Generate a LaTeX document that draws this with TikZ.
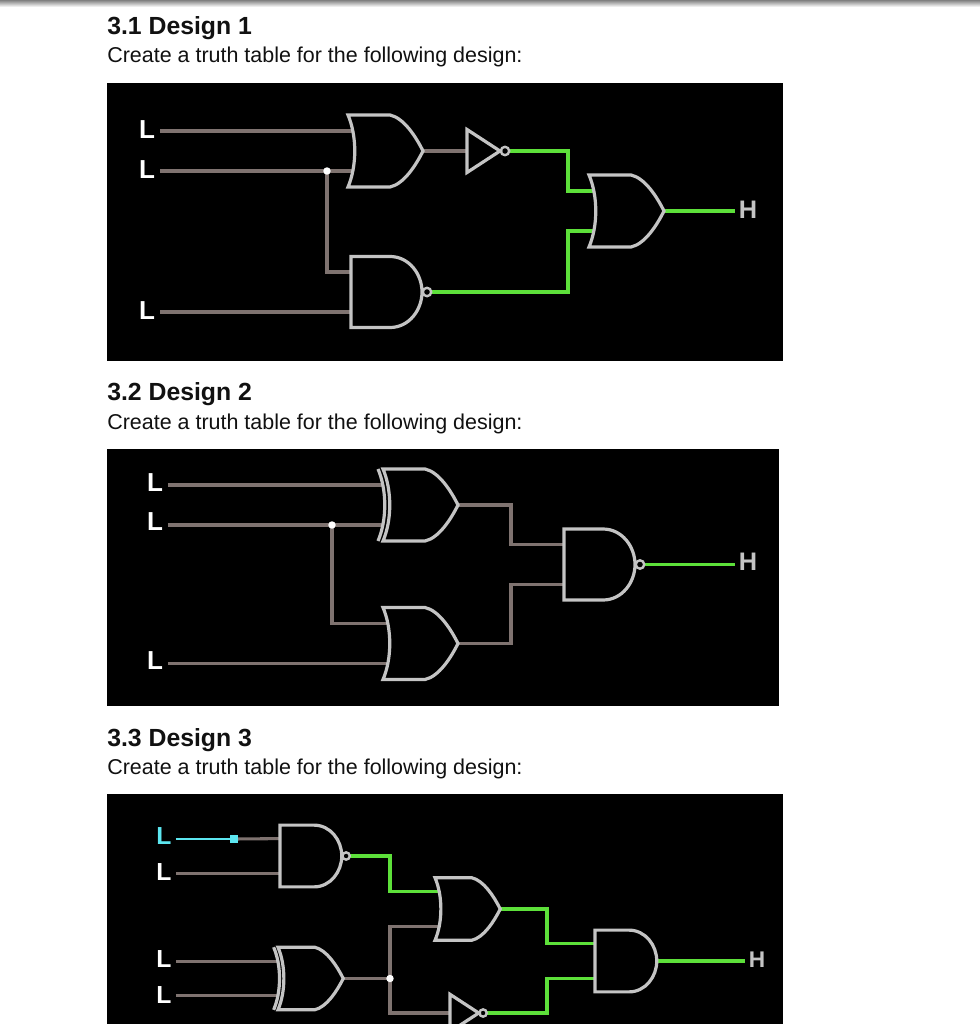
\documentclass[tikz,border=0pt]{standalone}
\usepackage{fontspec}
\setmainfont{Liberation Sans}
\usetikzlibrary{calc}
\pgfdeclarelayer{back}
\pgfdeclarelayer{wires}
\pgfsetlayers{back,wires,main}
\definecolor{wirec}{HTML}{7F7370}
\definecolor{gatec}{HTML}{C4C4C4}
\definecolor{greenc}{HTML}{5DE03A}
\definecolor{cyanc}{HTML}{5CE6F0}
\definecolor{inkc}{HTML}{111111}
\tikzset{
  wire/.style={draw=wirec,line width=2.3pt,line join=miter},
  live/.style={draw=greenc,line width=2.3pt,line join=miter},
  gate/.style={draw=gatec,line width=2.4pt,line join=miter},
  smallgate/.style={scale=.87},
  heading/.style={anchor=base west,inner sep=0pt,text=inkc,font=\fontsize{18.6}{20}\selectfont\bfseries},
  sub/.style={anchor=base west,inner sep=0pt,text=inkc,font=\fontsize{16.1}{18}\selectfont},
  inL/.style={text=white,inner ysep=0pt,inner xsep=3.8pt,font=\fontsize{19.5}{19.5}\selectfont\bfseries},
  inLs/.style={text=white,inner ysep=0pt,inner xsep=3pt,font=\fontsize{18.5}{18.5}\selectfont\bfseries},
  outH/.style={text=gatec,inner ysep=0pt,inner xsep=2.8pt,font=\fontsize{19}{19}\selectfont\bfseries},
  outHs/.style={text=gatec,inner ysep=0pt,inner xsep=2.8pt,font=\fontsize{17}{17}\selectfont\bfseries},
  junction/.style={circle,fill=white,inner sep=0pt,minimum size=5.6pt},
  pics/orgate/.style={code={
    \draw[gate] (42,-36) -- (0,-36) .. controls (9,-15) and (9,15) .. (0,36) -- (42,36)
      .. controls (56,33) and (68,14) .. (75,0) .. controls (68,-14) and (56,-33) .. (42,-36) -- cycle;
    \coordinate (-in1) at (5,-20); \coordinate (-in2) at (5,20); \coordinate (-out) at (75,0);}},
  pics/xorgate/.style={code={
    \draw[gate] (42,-36) -- (0,-36) .. controls (9,-15) and (9,15) .. (0,36) -- (42,36)
      .. controls (56,33) and (68,14) .. (75,0) .. controls (68,-14) and (56,-33) .. (42,-36) -- cycle;
    \draw[gate] (-5,-36) .. controls (4,-15) and (4,15) .. (-5,36);
    \coordinate (-in1) at (-1,-20); \coordinate (-in2) at (-1,20); \coordinate (-out) at (75,0);}},
  pics/andgate/.style={code={
    \draw[gate] (39,-35.5) -- (0,-35.5) -- (0,35.5) -- (39,35.5)
      .. controls (58,35.5) and (71,18) .. (71,0) .. controls (71,-18) and (58,-35.5) .. (39,-35.5) -- cycle;
    \coordinate (-in1) at (0,-20); \coordinate (-in2) at (0,20); \coordinate (-out) at (71,0);}},
  pics/nandgate/.style={code={
    \draw[gate] (39,-35.5) -- (0,-35.5) -- (0,35.5) -- (39,35.5)
      .. controls (58,35.5) and (71,18) .. (71,0) .. controls (71,-18) and (58,-35.5) .. (39,-35.5) -- cycle;
    \draw[gate,line width=1.8pt] (76,0) circle [radius=4.2];
    \coordinate (-in1) at (0,-20); \coordinate (-in2) at (0,20); \coordinate (-out) at (81,0);}},
  pics/notgate/.style={code={
    \draw[gate] (0,-21.5) -- (33,0) -- (0,21.5) -- cycle;
    \draw[gate,line width=1.8pt] (38,0) circle [radius=4.2];
    \coordinate (-in) at (0,0); \coordinate (-out) at (42.5,0);}},
}
\begin{document}
\begin{tikzpicture}[x=.75pt,y=-.75pt]
\useasboundingbox (0,0) rectangle (980,1024);
\begin{pgfonlayer}{back}
\fill[white] (0,0) rectangle (980,1024);
\shade[top color=black!50,bottom color=white] (0,0) rectangle (980,7);
\fill[black] (107,83) rectangle (783,361);
\fill[black] (107,449) rectangle (779,706);
\fill[black] (107,794) rectangle (783,1024);
\end{pgfonlayer}
% headings
\node[heading] (h1) at (107,35) {3.1 Design 1};
\node[sub] (s1) at (107,63) {Create a truth table for the following design:};
\node[heading] (h2) at (107,400) {3.2 Design 2};
\node[sub] (s2) at (107,429) {Create a truth table for the following design:};
\node[heading] (h3) at (107,746) {3.3 Design 3};
\node[sub] (s3) at (107,774) {Create a truth table for the following design:};
%% Design 1
\node[inL] (a1) at (147,130) {L};
\node[inL] (a2) at (147,170) {L};
\node[inL] (a3) at (147,311) {L};
\node[outH] (aH) at (748,210) {H};
\pic (ag1) at (348,151) {orgate};
\pic (ag2) at (351,292) {nandgate};
\pic (ag3) at (467,151) {notgate};
\pic (ag4) at (589,211) {orgate};
\node[junction] (aj) at (327,171) {};
\coordinate (ae) at (568,0);
\begin{pgfonlayer}{wires}
\draw[wire] (a1.east |- ag1-in1) -- (ag1-in1);
\draw[wire] (a2.east |- ag1-in2) -- (ag1-in2);
\draw[wire] (a3.east |- ag2-in2) -- (ag2-in2);
\draw[wire] (aj.center) |- (ag2-in1);
\draw[wire] (ag1-out) -- (ag3-in);
\draw[live] (ag3-out) -- (ag3-out -| ae) -- (ag4-in1 -| ae) -- (ag4-in1);
\draw[live] (ag2-out) -- (ag2-out -| ae) -- (ag4-in2 -| ae) -- (ag4-in2);
\draw[live] (ag4-out) -- (aH.west |- ag4-out);
\end{pgfonlayer}
%% Design 2
\node[inL] (b1) at (155,483) {L};
\node[inL] (b2) at (155,522) {L};
\node[inL] (b3) at (155,661) {L};
\node[outH] (bH) at (748,562) {H};
\pic (bg1) at (383,505) {xorgate};
\pic (bg2) at (383,643.5) {orgate};
\pic (bg3) at (564,564.5) {nandgate};
\node[junction] (bj) at (332,525) {};
\coordinate (be) at (511,0);
\begin{pgfonlayer}{wires}
\draw[wire] (b1.east |- bg1-in1) -- (bg1-in1);
\draw[wire] (b2.east |- bg1-in2) -- (bg1-in2);
\draw[wire] (b3.east |- bg2-in2) -- (bg2-in2);
\draw[wire] (bj.center) |- (bg2-in1);
\draw[wire] (bg1-out) -- (bg1-out -| be) -- (bg3-in1 -| be) -- (bg3-in1);
\draw[wire] (bg2-out) -- (bg2-out -| be) -- (bg3-in2 -| be) -- (bg3-in2);
\draw[live] (bg3-out) -- (bH.west |- bg3-out);
\end{pgfonlayer}
%% Design 3
\node[inLs,text=cyanc] (c1) at (164,836) {L};
\node[inLs] (c2) at (164,872) {L};
\node[inLs] (c3) at (164,959) {L};
\node[inLs] (c4) at (164,995) {L};
\node[outHs] (cH) at (757,960) {H};
\pic[smallgate] (cg1) at (280,856) {nandgate};
\pic[smallgate] (cg2) at (278,978.5) {xorgate};
\pic[smallgate] (cg3) at (435,909) {orgate};
\pic[smallgate] (cg4) at (450,1013) {notgate};
\pic[smallgate] (cg5) at (595,961) {andgate};
\node[fill=cyanc,inner sep=0pt,minimum size=5.8pt] (csq) at (234,839) {};
\node[junction] (cj) at (390,978.5) {};
\coordinate (ce1) at (390,0);
\coordinate (ce2) at (547,0);
\begin{pgfonlayer}{wires}
\draw[wire] (csq.center) -- (cg1-in1);
\draw[draw=cyanc,line width=1.8pt] (c1.east |- csq) -- (csq);
\draw[wire] (c2.east |- cg1-in2) -- (cg1-in2);
\draw[wire] (c3.east |- cg2-in1) -- (cg2-in1);
\draw[wire] (c4.east |- cg2-in2) -- (cg2-in2);
\draw[wire] (cg2-out) -- (cj.center);
\draw[wire] (cj.center) |- (cg3-in2);
\draw[wire] (cj.center) |- (cg4-in);
\draw[live] (cg1-out) -- (cg1-out -| ce1) -- (cg3-in1 -| ce1) -- (cg3-in1);
\draw[live] (cg3-out) -- (cg3-out -| ce2) -- (cg5-in1 -| ce2) -- (cg5-in1);
\draw[live] (cg4-out) -- (cg4-out -| ce2) -- (cg5-in2 -| ce2) -- (cg5-in2);
\draw[live] (cg5-out) -- (cH.west |- cg5-out);
\end{pgfonlayer}
\end{tikzpicture}
\end{document}
